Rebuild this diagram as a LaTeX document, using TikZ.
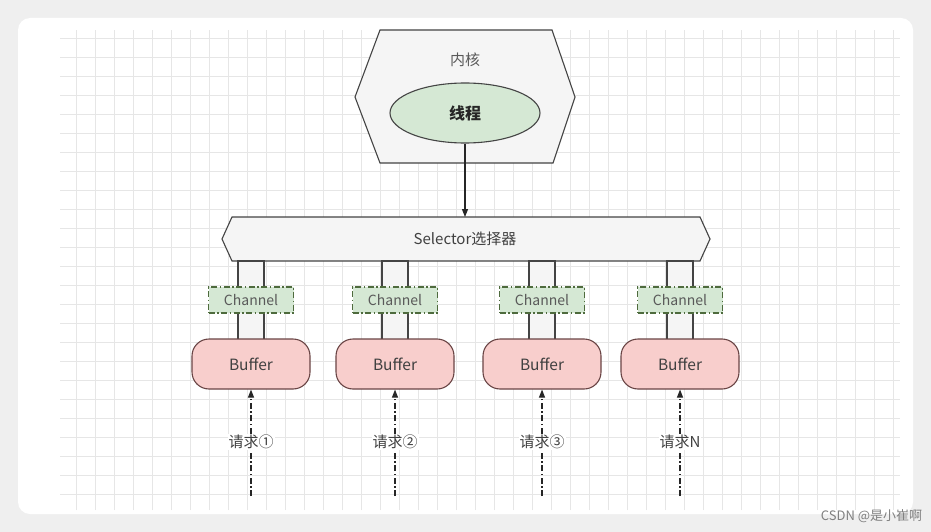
\documentclass[tikz,border=0pt]{standalone}
\usepackage{fontspec}
\setmainfont{Noto Sans CJK SC}
\usetikzlibrary{shapes.geometric,arrows.meta}
\definecolor{bgout}{HTML}{EFEFEF}
\definecolor{gridc}{HTML}{E6E6E6}
\definecolor{boxg}{HTML}{F5F5F5}
\definecolor{lineg}{HTML}{444444}
\definecolor{greenf}{HTML}{D5E8D4}
\definecolor{greenl}{HTML}{82B366}
\definecolor{pinkf}{HTML}{F8CECC}
\definecolor{pinkl}{HTML}{6A4545}
\tikzset{
 every path/.style={line width=1.1pt},
 dd/.style={dash pattern=on 6pt off 2.5pt on 1.5pt off 2.5pt},
 chan/.style={draw=greenl!60!black,fill=greenf,dd,minimum width=85pt,minimum height=26pt,font=\fontsize{14}{16}\selectfont,text=black!65},
 buf/.style={draw=pinkl,fill=pinkf,rounded corners=17pt,minimum width=118pt,minimum height=50pt,font=\fontsize{15.5}{18}\selectfont,text=black!75},
 pipe/.style={draw=lineg,fill=boxg},
 req/.style={fill=white,inner sep=1pt,font=\fontsize{15}{18}\selectfont,text=black!75},
 reqarrow/.style={draw=black!85,dd,-{Triangle[length=8pt,width=6pt]}}
}
\begin{document}
\begin{tikzpicture}[x=1pt,y=-1pt]
\useasboundingbox (0,0) rectangle (931,532);
\fill[bgout] (0,0) rectangle (931,532);
\fill[white,rounded corners=12pt] (18,18) rectangle (913,514);
\draw[gridc,line width=0.7pt] (60,30) grid[step=19pt] (900,510);
% kernel hexagon
\draw[lineg,fill=boxg] (380,30) -- (552,30) -- (575,97) -- (553,163) -- (380,163) -- (355,97) -- cycle;
\node[font=\fontsize{15}{18}\selectfont,text=black!65] (kern) at (465,60) {内核};
\node[ellipse,draw=lineg,fill=greenf,minimum width=150pt,minimum height=60pt,font=\bfseries\fontsize{16}{19}\selectfont,text=black!85] (thr) at (465,113) {线程};
% selector
\draw[lineg,fill=boxg] (232,217) -- (700,217) -- (710,239) -- (700,261) -- (232,261) -- (222,239) -- cycle;
\node[font=\fontsize{15}{18}\selectfont,text=black!75] (sel) at (465,239) {Selector选择器};
\coordinate (selt) at (465,217);
\draw[black!85,-{Triangle[length=8pt,width=6pt]}] (thr.south) -- (selt);
\foreach \x/\lab/\i in {251/请求①/1,395/请求②/2,542/请求③/3,680/请求N/4}{
  \draw[pipe] (\x-13,261) rectangle (\x+13,340);
  \node[chan] (c\i) at (\x,300) {Channel};
  \node[buf] (b\i) at (\x,364) {Buffer};
  \coordinate (s\i) at (\x,496);
  \draw[reqarrow] (s\i) -- (b\i.south);
  \node[req] (r\i) at (\x,442) {\lab};
}
\node[font=\fontsize{13}{15}\selectfont,text=black!50,anchor=east] (wm) at (926,516) {CSDN @是小崔啊};
\end{tikzpicture}
\end{document}
